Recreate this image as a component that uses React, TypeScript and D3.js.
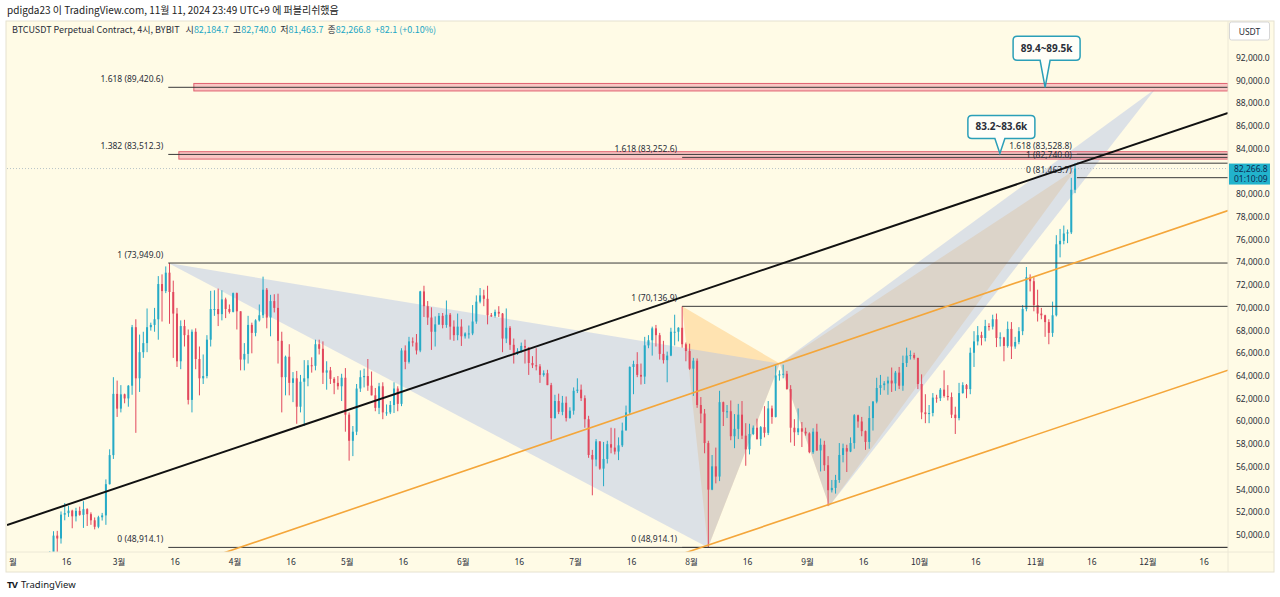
import React from "react";
import * as d3 from "d3";

const W = 1280;
const H = 597;
const plot = { left: 7, right: 1228, top: 21, bottom: 552 };

const CREAM = "#fffbe6";
const UP = "#26aac6";
const DOWN = "#e2485d";
const TEAL = "#22a6c4";
const TXT = "#2a2e39";
const FONT = "'Noto Sans', 'Noto Sans CJK KR', sans-serif";
const KFONT = "'Noto Sans CJK KR', 'Noto Sans', sans-serif";

// daily candles BTCUSDT, [high, low, close], open = previous close
const FIRST_DAY = Date.UTC(2024, 1, 11);
const FIRST_OPEN = 47770;

const feb = [
  [48580, 47700, 48300], [50340, 47720, 49950], [50370, 48300, 49700], [52080, 49250, 51800],
  [52820, 51300, 51930], [52570, 51600, 52150], [52230, 50600, 51650], [52400, 51200, 52130],
  [52500, 51700, 51780], [52980, 50630, 52280], [52360, 50800, 51840], [52000, 50900, 51300],
  [51550, 50500, 50730], [51700, 50600, 51570], [51950, 51280, 51730], [54900, 50900, 54480],
  [57550, 54450, 57040], [63900, 56700, 62430], [63600, 60400, 61130],
];
const mar = [
  [63200, 60800, 62390], [62450, 61600, 62030], [63200, 61300, 63150], [68500, 62350, 68300],
  [69000, 59000, 63800], [67650, 62600, 66100], [67900, 65600, 66900], [69950, 66100, 68300],
  [68700, 68000, 68500], [70000, 67900, 69000], [72800, 67200, 72100], [72950, 68800, 71480],
  [73650, 71300, 73100], [73949, 68600, 71400], [72400, 65600, 69500], [70000, 64800, 65300],
  [68900, 64600, 68400], [68950, 66600, 67600], [68100, 61500, 61900], [68100, 60800, 67900],
  [68200, 64600, 65500], [66600, 62300, 63800], [65900, 63300, 64000], [67600, 63800, 67200],
  [71500, 66600, 69900], [71550, 69300, 69900], [71700, 68400, 69450], [71550, 68900, 70750],
  [70900, 69100, 69900], [70300, 69500, 69650], [71350, 69600, 71300],
];
const apr = [
  [71350, 68100, 69700], [69700, 64500, 65450], [66900, 64500, 65950], [69300, 65100, 68500],
  [68700, 66000, 67800], [69000, 67500, 68900], [70300, 68800, 69350], [72750, 69100, 71600],
  [71750, 68200, 69150], [71150, 67500, 70600], [71200, 69600, 70000], [71250, 65100, 67100],
  [67900, 60800, 63900], [65800, 62300, 65700], [66800, 62300, 63400], [64350, 61700, 63800],
  [64450, 59800, 61300], [64100, 60800, 63500], [65400, 59600, 63800], [65400, 63100, 64950],
  [65650, 64300, 64900], [67200, 64500, 66800], [67200, 65900, 66400], [67050, 63300, 64300],
  [65300, 62800, 64500], [64800, 63300, 63750], [63900, 62400, 63400], [64000, 62800, 63100],
  [64200, 61800, 63850], [64700, 59100, 60600],
];
const may = [
  [60800, 56550, 58300], [59600, 56950, 59100], [63300, 58800, 62900], [64500, 62600, 63900],
  [64650, 63000, 64000], [65500, 62700, 63150], [64400, 62300, 62300], [62950, 60900, 61200],
  [63400, 60650, 63100], [63450, 60200, 60800], [61500, 60500, 60800], [61800, 60650, 61450],
  [63450, 60750, 62900], [63100, 60900, 61550], [66450, 61350, 66250], [66700, 64600, 65250],
  [67450, 65100, 67050], [67400, 66600, 66950], [67700, 65900, 66250], [71500, 66100, 71450],
  [71950, 69200, 70150], [70600, 68500, 69150], [70050, 66300, 67900], [69250, 66600, 68550],
  [69550, 68500, 69300], [69550, 68200, 68500], [70650, 68250, 69400], [69550, 67200, 68350],
  [68900, 67100, 67600], [69500, 67150, 68350], [69000, 66650, 67500],
];
const jun = [
  [67850, 67300, 67750], [68450, 67300, 67750], [70250, 67600, 68800], [71100, 68600, 70550],
  [71750, 70400, 71100], [71600, 70150, 70800], [71950, 68550, 69350], [69550, 69200, 69300],
  [69850, 69150, 69650], [70150, 69200, 69500], [69550, 66100, 67300], [69950, 66900, 68250],
  [68400, 66300, 66750], [67300, 65100, 66000], [66450, 65850, 66200], [66950, 66050, 66650],
  [67200, 65100, 66500], [66550, 64100, 65150], [65750, 64700, 64950], [66450, 64500, 64850],
  [65050, 63400, 64100], [64500, 63950, 64250], [64550, 63200, 63200], [63400, 58400, 60300],
  [62350, 60250, 61800], [62450, 60650, 60850], [62250, 60550, 61650], [62200, 60000, 60300],
  [61250, 60250, 60950], [63000, 60600, 62700],
];
const jul = [
  [63800, 62500, 62800], [63250, 61800, 62050], [62300, 59450, 60200], [60500, 56800, 57050],
  [57500, 53500, 56650], [58450, 56050, 58250], [58250, 55750, 55850], [58200, 54300, 56700],
  [58300, 56300, 58000], [59450, 57200, 57700], [59400, 57100, 57350], [58600, 56600, 57900],
  [59900, 57750, 59200], [61400, 59250, 60800], [64850, 60650, 64800], [65350, 62400, 65050],
  [66100, 63900, 64100], [65100, 63250, 63950], [67450, 63300, 66700], [67600, 66450, 67150],
  [68350, 65800, 68200], [68500, 66600, 67600], [67800, 65450, 65950], [67100, 65100, 65400],
  [66150, 63450, 65800], [68250, 65750, 67900], [69400, 66700, 67900], [68300, 67050, 68250],
  [70137, 66500, 66800], [66950, 65300, 66200], [66850, 64550, 64650],
];
const aug = [
  [65600, 62250, 65350], [65550, 61200, 61450], [62150, 59850, 60700], [61100, 57200, 58100],
  [58300, 48914, 54000], [57050, 53950, 56050], [57700, 54550, 55150], [62700, 54750, 61700],
  [61750, 59600, 60850], [61450, 60300, 60900], [61850, 58350, 58700], [60650, 57650, 59350],
  [61550, 58450, 60600], [61800, 58450, 58750], [59850, 56100, 57550], [59800, 57100, 58900],
  [59650, 58800, 59450], [60250, 58400, 58450], [59600, 57850, 59500], [61350, 58600, 59000],
  [61800, 58800, 61150], [61400, 59800, 60400], [64950, 60350, 64050], [64500, 63600, 64150],
  [65000, 63800, 64200], [64450, 62800, 62850], [63200, 58150, 59450], [60200, 57850, 59050],
  [61150, 58800, 59400], [59950, 57750, 59100], [59450, 58750, 58950],
];
const sep = [
  [59050, 57200, 57300], [59400, 57150, 59100], [59800, 57400, 57450], [58500, 55600, 57950],
  [58300, 55650, 56150], [56950, 52550, 53950], [54850, 53750, 54150], [55300, 53650, 54850],
  [58100, 54600, 57050], [58050, 56400, 57650], [57950, 55550, 57350], [58600, 57300, 58100],
  [60650, 57600, 60550], [60600, 59450, 60000], [60400, 58700, 59150], [59200, 57500, 58200],
  [61350, 57600, 60300], [61800, 59200, 61750], [63850, 61600, 62950], [64100, 62350, 63200],
  [63550, 62750, 63350], [63950, 62350, 63600], [64750, 62600, 63350], [64450, 62700, 64300],
  [64800, 62850, 63150], [65800, 62700, 65150], [66500, 64800, 65800], [66250, 65450, 65850],
  [66050, 65450, 65600], [65600, 62850, 63300],
];
const oct = [
  [64150, 60200, 60800], [62400, 59850, 60650], [61450, 59850, 60750], [62500, 60450, 62100],
  [62350, 61650, 62050], [62950, 61800, 62800], [64500, 62100, 62250], [63200, 61850, 62150],
  [62550, 60300, 60600], [61300, 58900, 60300], [63400, 60100, 62500], [63450, 62450, 63200],
  [63300, 62050, 62850], [66500, 62400, 66050], [67950, 64800, 67050], [68400, 66700, 67600],
  [67900, 66700, 67350], [68950, 67050, 68400], [68650, 68000, 68350], [69400, 68100, 69000],
  [69500, 66550, 67350], [67850, 66600, 67400], [67450, 65300, 66650], [68800, 66500, 68150],
  [68750, 65500, 66600], [67450, 66400, 67000], [68300, 66800, 67950], [70250, 67600, 69900],
  [73600, 69700, 72700], [72950, 71450, 72350], [72700, 69700, 70250],
];
const nov = [
  [71600, 68800, 69500], [70000, 69000, 69350], [69400, 67450, 68750], [69000, 66800, 67800],
  [70550, 67450, 69350], [76400, 69250, 75600], [76950, 74450, 75900], [77250, 75600, 76550],
  [76900, 75700, 76650], [81450, 76500, 80400], [82740, 80100, 82266.8],
];

// price axis labels
const priceTicks = [50000, 52000, 54000, 56000, 58000, 60000, 62000, 64000, 66000, 68000, 70000,
  72000, 74000, 76000, 78000, 80000, 84000, 86000, 88000, 90000, 92000];
// time axis labels
const monthLabels = ["2월", "3월", "4월", "5월", "6월", "7월", "8월", "9월", "10월", "11월", "12월"];

// drawings: [date, price]
const blackTrend = [["2024-02-20", 53100], ["2024-11-12", 82670]];
const orangeUpper = [["2024-06-27", 58540], ["2024-11-10", 73810]];
const orangeLower = [["2024-08-31", 51950], ["2024-11-10", 59820]];

const patX1 = ["2024-03-14T04:00", 73949];
const patX2 = ["2024-07-29T12:00", 70136.9];
const patA = ["2024-08-05T10:00", 48914.1];
const patB = ["2024-08-24T14:00", 65100];
const patC = ["2024-09-06T20:00", 52550];
const patD1 = ["2024-12-03T00:00", 89300];
const patD2 = ["2024-11-11T16:00", 82200];

// fib levels: [start, level, price]
const fibA = { start: "2024-03-14T04:00", levels: [["1.618", 89420.6], ["1.382", 83512.3], ["1", 73949.0], ["0", 48914.1]] };
const fibB = { start: "2024-07-29T12:00", levels: [["1.618", 83252.6], ["1", 70136.9], ["0", 48914.1]] };
const fibC = { start: "2024-11-12T00:00", levels: [["1.618", 83528.8], ["1", 82740.0], ["0", 81463.7]] };

// zones [from, top price, bottom price]
const zones = [["2024-03-21", 89760, 89100], ["2024-03-17", 83750, 83100]];
const callouts = [
  { text: "89.4~89.5k", date: "2024-11-03T12:00", price: 89420 },
  { text: "83.2~83.6k", date: "2024-10-22T10:00", price: 83600 },
];

const lastPrice = 82266.8;

const t = (s: string) => new Date(s.length <= 10 ? s + "T00:00:00Z" : s + ":00Z");
const fmt = d3.format(",.1f");

export default function App() {
  const x = d3.scaleUtc()
    .domain([new Date(Date.UTC(2024, 2, 1)), new Date(Date.UTC(2024, 11, 1))])
    .range([119, 1148]);
  const y = d3.scaleLinear().domain([48914.1, 89420.6]).range([547.4, 87.3]);

  let prev = FIRST_OPEN;
  const candles = [...feb, ...mar, ...apr, ...may, ...jun, ...jul, ...aug, ...sep, ...oct, ...nov].map(
    ([h, l, c], i) => {
      const o = prev;
      prev = c;
      return { date: new Date(FIRST_DAY + i * 864e5 + 432e5), o, h, l, c };
    }
  );

  const pt = (p: any) => [x(t(p[0])), y(p[1])] as [number, number];

  // extend a two-point line across the plot
  const extLine = (a: any, b: any) => {
    const [x1, y1] = pt(a);
    const [x2, y2] = pt(b);
    const k = (y2 - y1) / (x2 - x1);
    return { x1: plot.left, y1: y1 + k * (plot.left - x1), x2: plot.right, y2: y1 + k * (plot.right - x1) };
  };

  const tri = (ps: any[]) => d3.line()(ps.map(pt)) + "Z";

  const monthTicks = monthLabels.map((m, i) => ({ label: m, date: new Date(Date.UTC(2024, i + 1, 1)) }));
  const midTicks = monthLabels.map((_, i) => new Date(Date.UTC(2024, i + 1, 16)));

  const calloutPath = (tx: number, ty: number, top: number, bottom: number) => {
    const x0 = tx - 32, x1 = tx + 35, r = 4;
    return `M${x0 + r},${top} H${x1 - r} Q${x1},${top} ${x1},${top + r} V${bottom - r} Q${x1},${bottom} ${x1 - r},${bottom}` +
      ` H${tx + 5} L${tx},${ty} L${tx - 5},${bottom} H${x0 + r} Q${x0},${bottom} ${x0},${bottom - r} V${top + r} Q${x0},${top} ${x0 + r},${top} Z`;
  };

  const fibLines = (f: any) => {
    const sx = x(t(f.start));
    return f.levels.map(([lv, p]: any) => (
      <g key={f.start + lv}>
        <line x1={sx} x2={plot.right} y1={y(p)} y2={y(p)} stroke="#3a3a3a" strokeWidth={1} />
        <text x={sx - 5} y={y(p) - 5} textAnchor="end" fontSize={8.5} fill={TXT}>
          {`${lv} (${fmt(p)})`}
        </text>
      </g>
    ));
  };

  const bl = extLine(blackTrend[0], blackTrend[1]);
  const ou = extLine(orangeUpper[0], orangeUpper[1]);
  const ol = extLine(orangeLower[0], orangeLower[1]);
  const cw = 2;

  return (
    <svg width={W} height={H} style={{ position: "absolute", left: 0, top: 0, fontFamily: FONT }}>
      <defs>
        <clipPath id="plotClip">
          <rect x={plot.left} y={plot.top} width={plot.right - plot.left} height={plot.bottom - plot.top} />
        </clipPath>
        <clipPath id="axisClip">
          <rect x={9} y={552} width={1219} height={20} />
        </clipPath>
      </defs>
      <rect width={W} height={H} fill="#ffffff" />
      <text x={7} y={13.5} fontSize={10} fill="#222" fontFamily={KFONT}>
        pdigda23 이 TradingView.com, 11월 11, 2024 23:49 UTC+9 에 퍼블리쉬했음
      </text>
      <rect x={6} y={21} width={1268} height={551} fill={CREAM} stroke="#e6e2d0" />

      <g clipPath="url(#plotClip)">
        {/* harmonic patterns */}
        <path d={tri([patX2, patA, patB])} fill="#ffb74d" fillOpacity={0.35} />
        <path d={tri([patB, patC, patD2])} fill="#ffb74d" fillOpacity={0.35} />
        <path d={tri([patX1, patA, patB])} fill="#b2c2e6" fillOpacity={0.45} />
        <path d={tri([patB, patC, patD1])} fill="#b2c2e6" fillOpacity={0.45} />

        {/* current price dotted line */}
        <line x1={plot.left} x2={plot.right} y1={y(lastPrice)} y2={y(lastPrice)} stroke="#b8c4c8" strokeDasharray="1 2" />

        {/* candles */}
        {candles.map((d, i) => {
          const col = d.c >= d.o ? UP : DOWN;
          const cx = x(d.date);
          const top = y(Math.max(d.o, d.c));
          const bot = y(Math.min(d.o, d.c));
          return (
            <g key={i}>
              <line x1={cx} x2={cx} y1={y(d.h)} y2={y(d.l)} stroke={col} strokeWidth={1} />
              <rect x={cx - cw / 2} y={top} width={cw} height={Math.max(1, bot - top)} fill={col} />
            </g>
          );
        })}

        {/* zones */}
        {zones.map(([d, p1, p2]: any) => (
          <rect key={d} x={x(t(d))} y={y(p1)} width={plot.right - x(t(d))} height={y(p2) - y(p1)}
            fill="#f5a3ad" fillOpacity={0.6} stroke="#e0606f" strokeWidth={1} />
        ))}

        {fibLines(fibA)}
        {fibLines(fibB)}
        {fibLines(fibC)}

        <line {...ou} stroke="#f4a63a" strokeWidth={1.6} />
        <line {...ol} stroke="#f4a63a" strokeWidth={1.6} />
        <line {...bl} stroke="#111" strokeWidth={2} />

        {callouts.map((c, i) => {
          const tx = x(t(c.date));
          const ty = y(c.price);
          const top = i === 0 ? ty - 51 : ty - 38;
          const bottom = i === 0 ? ty - 27 : ty - 15;
          return (
            <g key={c.text}>
              <path d={calloutPath(tx, ty, top, bottom)} fill="#fffef8" stroke="#2b9fb8" strokeWidth={1.5} />
              <text x={tx + 1.5} y={(top + bottom) / 2 + 3.5} textAnchor="middle" fontSize={10} fontWeight="bold" fill={TXT}>
                {c.text}
              </text>
            </g>
          );
        })}
      </g>

      {/* legend */}
      <text x={12} y={32.5} fontSize={9} fill={TXT} fontFamily={KFONT}>
        <tspan>BTCUSDT Perpetual Contract, 4시, BYBIT</tspan>
        <tspan dx={6}>시</tspan><tspan fill={TEAL}>82,184.7</tspan>
        <tspan dx={4}>고</tspan><tspan fill={TEAL}>82,740.0</tspan>
        <tspan dx={4}>저</tspan><tspan fill={TEAL}>81,463.7</tspan>
        <tspan dx={4}>종</tspan><tspan fill={TEAL}>82,266.8</tspan>
        <tspan dx={4} fill={TEAL}>+82.1 (+0.10%)</tspan>
      </text>

      {/* price axis */}
      <line x1={plot.right} x2={plot.right} y1={21} y2={572} stroke="#ece8d6" />
      {priceTicks.map((p) => (
        <text key={p} x={1236} y={y(p) + 3} fontSize={8.5} fill={TXT}>{fmt(p)}</text>
      ))}
      <rect x={1229.5} y={22} width={40} height={18} fill="#fff" stroke="#d6d6d6" rx={2} />
      <text x={1249.5} y={34.5} textAnchor="middle" fontSize={8.5} fill={TXT}>USDT</text>
      <rect x={1229} y={y(lastPrice) - 5} width={41} height={21} fill="#22b3cc" />
      <text x={1234} y={y(lastPrice) + 3.5} fontSize={8.5} fill="#0d2c54">{fmt(lastPrice)}</text>
      <text x={1234} y={y(lastPrice) + 13} fontSize={8.5} fill="#0d2c54">01:10:09</text>

      {/* time axis */}
      <line x1={6} x2={1274} y1={plot.bottom} y2={plot.bottom} stroke="#ece8d6" />
      <g clipPath="url(#axisClip)">
        {monthTicks.map((m) => (
          <text key={m.label} x={x(m.date)} y={565} textAnchor="middle" fontSize={8.5} fill={TXT} fontFamily={KFONT}>
            {m.label}
          </text>
        ))}
        {midTicks.map((d, i) => (
          <text key={i} x={x(d)} y={565} textAnchor="middle" fontSize={8.5} fill={TXT}>16</text>
        ))}
      </g>

      {/* logo */}
      <text x={7} y={588} fontSize={9.5} fontWeight="bold" fill="#131722" letterSpacing={-0.8}>TV</text>
      <text x={21} y={588} fontSize={9.5} fill="#131722">TradingView</text>
    </svg>
  );
}
